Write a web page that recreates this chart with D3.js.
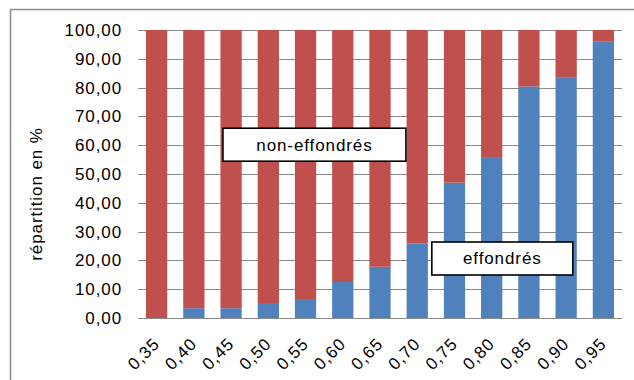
<!DOCTYPE html>
<html>
<head>
<meta charset="utf-8">
<script src="https://cdn.jsdelivr.net/npm/d3@7"></script>
<style>
  html, body { margin: 0; padding: 0; background: #ffffff; }
  svg { display: block; font-family: "Liberation Sans", Arial, sans-serif; }
</style>
</head>
<body>
<svg id="chart" width="634" height="380"></svg>
<script>
// Seuils (abscisses) et répartition des cas
const categories = ["0,35", "0,40", "0,45", "0,50", "0,55", "0,60", "0,65",
                    "0,70", "0,75", "0,80", "0,85", "0,90", "0,95"];
const effondres    = [0, 3.4, 3.4, 5.2, 6.6, 12.5, 17.8, 25.9, 47.0, 55.6, 80.4, 83.4, 96.1];
const nonEffondres = [100, 96.6, 96.6, 94.8, 93.4, 87.5, 82.2, 74.1, 53.0, 44.4, 19.6, 16.6, 3.9];
const yTicks = [0, 10, 20, 30, 40, 50, 60, 70, 80, 90, 100];
const seriesNames = ["effondrés", "non-effondrés"];
const colors = { "effondrés": "#4F81BD", "non-effondrés": "#C0504D" };

const svg = d3.select("#chart");
const margin = { left: 138, right: 12, top: 30, bottom: 62 };
const W = 634, H = 380;
const plotRight = W - margin.right;
const plotBottom = H - margin.bottom;

// cadre du graphique
svg.append("rect")
  .attr("x", 10.5).attr("y", 9.5)
  .attr("width", 640).attr("height", 400)
  .attr("fill", "#ffffff")
  .attr("stroke", "#8c8c8c").attr("stroke-width", 1.5);

const x = d3.scaleBand()
  .domain(categories)
  .range([margin.left, plotRight])
  .paddingInner(0.75 / 1.75)
  .paddingOuter(0.75 / 1.75 / 2);

const y = d3.scaleLinear().domain([0, 100]).range([plotBottom, margin.top]);

const fmt = v => d3.format(".2f")(v).replace(".", ",");

// quadrillage horizontal
svg.append("g")
  .selectAll("line")
  .data(yTicks)
  .join("line")
  .attr("x1", margin.left).attr("x2", plotRight)
  .attr("y1", d => Math.round(y(d)) + 0.5).attr("y2", d => Math.round(y(d)) + 0.5)
  .attr("stroke", "#8a8a8a").attr("stroke-width", 1);

// étiquettes de l'axe vertical
const yAxis = d3.axisLeft(y).tickValues(yTicks).tickFormat(fmt).tickSize(0).tickPadding(0);
const gy = svg.append("g").attr("transform", `translate(${margin.left - 16},0)`).call(yAxis);
gy.select(".domain").remove();
gy.selectAll("text")
  .attr("font-family", "Liberation Sans, Arial, sans-serif")
  .attr("font-size", 17)
  .attr("letter-spacing", "0.9px")
  .attr("fill", "#000");

// barres empilées
const rows = categories.map((c, i) => ({
  cat: c, "effondrés": effondres[i], "non-effondrés": nonEffondres[i]
}));
const stack = d3.stack().keys(seriesNames)(rows);

svg.append("g")
  .selectAll("g")
  .data(stack)
  .join("g")
  .attr("fill", d => colors[d.key])
  .selectAll("rect")
  .data(d => d)
  .join("rect")
  .attr("x", d => x(d.data.cat))
  .attr("width", x.bandwidth())
  .attr("y", d => y(d[1]))
  .attr("height", d => y(d[0]) - y(d[1]));

// axe horizontal
const xAxis = d3.axisBottom(x).tickSize(0).tickPadding(0);
const gx = svg.append("g").attr("transform", `translate(0,${plotBottom})`).call(xAxis);
gx.select(".domain").attr("stroke", "#8a8a8a").attr("d", `M${margin.left},0.5H${plotRight}`);
gx.selectAll(".tick text")
  .attr("font-family", "Liberation Sans, Arial, sans-serif")
  .attr("font-size", 17)
  .attr("letter-spacing", "0.9px")
  .attr("fill", "#000")
  .attr("text-anchor", "end")
  .attr("dy", 0)
  .attr("y", 0)
  .attr("transform", "translate(4,27) rotate(-45)");

// titre de l'axe vertical
svg.append("text")
  .attr("transform", "translate(42,194) rotate(-90)")
  .attr("text-anchor", "middle")
  .attr("font-size", 17)
  .attr("letter-spacing", "0.9px")
  .attr("fill", "#000")
  .text("répartition en %");

// étiquettes des séries
function label(text, x0, y0, w, h) {
  const g = svg.append("g");
  g.append("rect")
    .attr("x", x0).attr("y", y0).attr("width", w).attr("height", h)
    .attr("fill", "#ffffff").attr("stroke", "#000").attr("stroke-width", 1.6);
  g.append("text")
    .attr("x", x0 + w / 2).attr("y", y0 + h / 2)
    .attr("dy", "0.35em")
    .attr("text-anchor", "middle")
    .attr("font-size", 17)
    .attr("letter-spacing", "0.9px")
    .attr("fill", "#000")
    .text(text);
}
label("non-effondrés", x(categories[2]) + 2.5, y(60) - 17, 183, 33);
label("effondrés", x(categories[8]) - 12, y(25) - 4, 141, 33);
</script>
</body>
</html>
